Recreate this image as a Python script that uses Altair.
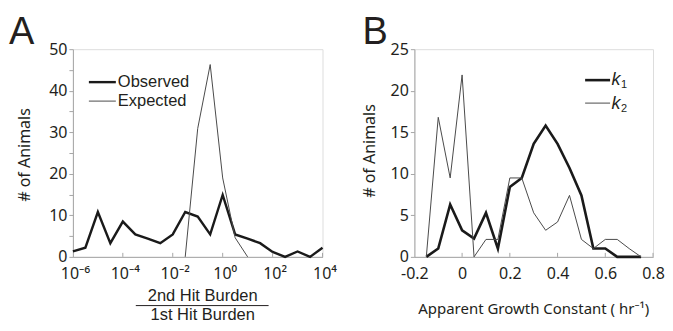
import altair as alt
import pandas as pd

FONT = "Noto Sans"
FONT2 = "Liberation Sans"
INK = "#231f20"

# ---------------- Panel A data ----------------
a_x = [-6, -5.5, -5, -4.5, -4, -3.5, -3, -2.5, -2, -1.5, -1, -0.5, 0, 0.5, 1, 1.5, 2, 2.5, 3, 3.5, 4]
a_observed = [1.3, 2.2, 10.8, 3.3, 8.5, 5.4, 4.4, 3.3, 5.4, 10.8, 9.7, 5.4, 14.9, 5.4, 4.4, 3.3, 1.2, 0, 1.3, 0, 2.2]
a_exp_x = [-1.5, -1, -0.5, 0, 0.5, 1]
a_expected = [0, 30.9, 46.3, 19.0, 4.6, 0]
a_xticks = [-6, -4, -2, 0, 2, 4]
a_xlabels = ["10⁻⁶", "10⁻⁴", "10⁻²", "10⁰", "10²", "10⁴"]
a_yticks = [0, 5, 10, 15, 20, 25, 30, 35, 40, 45, 50]

# ---------------- Panel B data ----------------
b_x = [-0.15, -0.1, -0.05, 0, 0.05, 0.1, 0.15, 0.2, 0.25, 0.3, 0.35, 0.4, 0.45, 0.5, 0.55, 0.6, 0.65, 0.7, 0.75]
b_k1 = [0, 1.0, 6.3, 3.2, 2.2, 5.3, 1.0, 8.4, 9.5, 13.6, 15.8, 13.6, 10.7, 7.4, 1.0, 1.0, 0, 0, 0]
b_k2 = [0, 16.8, 9.5, 21.9, 0, 2.1, 2.1, 9.5, 9.5, 5.3, 3.2, 4.2, 7.4, 2.1, 1.0, 2.1, 2.1, 1.0, 0]
b_xticks = [-0.2, 0, 0.2, 0.4, 0.6, 0.8]
b_xlabels = ["-0.2", "0", "0.2", "0.4", "0.6", "0.8"]
b_yticks = [0, 5, 10, 15, 20, 25]

AW, AH = 250, 208
BW, BH = 239, 208


def label_expr(vals, labels):
    expr = "''"
    for v, l in reversed(list(zip(vals, labels))):
        expr = f"abs(datum.value - ({v})) < 1e-6 ? '{l}' : ({expr})"
    return expr


def txt(s, **kw):
    base = dict(font=FONT, color=INK, fontSize=16)
    base.update(kw)
    return alt.Chart(pd.DataFrame({"t": [s]})).mark_text(**base).encode(text="t:N")


def hrule(x1, x2, y, w, c):
    return alt.Chart(pd.DataFrame({"d": [0]})).mark_rule(strokeWidth=w, color=c).encode(
        x=alt.value(x1), x2=alt.value(x2), y=alt.value(y))


def panel(series, xdom, ydom, xticks, xlabels, yticks, ylabel_expr, h, loff):
    x_scale = alt.Scale(domain=xdom, nice=False, zero=False)
    y_scale = alt.Scale(domain=ydom, nice=False)
    x_axis = alt.Axis(values=xticks, labelExpr=label_expr(xticks, xlabels), title=None, grid=False,
                      ticks=False, domainColor="#a6a6a6", domainWidth=1, labelFont=FONT,
                      labelFontSize=16, labelColor=INK, labelPadding=9, labelOffset=loff,
                      labelOverlap=False, labelFlush=False)
    y_args = dict(values=yticks, title=None, grid=False, tickSize=4, tickColor="#a6a6a6",
                  domainColor="#a6a6a6", labelFont=FONT, labelFontSize=16, labelColor=INK,
                  labelPadding=2, labelOverlap=False)
    if ylabel_expr:
        y_args["labelExpr"] = ylabel_expr
    y_axis = alt.Axis(**y_args)
    layers = []
    for xs, ys, sw, col in series:
        df = pd.DataFrame({"x": xs, "y": ys})
        layers.append(alt.Chart(df).mark_line(strokeWidth=sw, color=col, strokeJoin="miter").encode(
            x=alt.X("x:Q", scale=x_scale, axis=x_axis),
            y=alt.Y("y:Q", scale=y_scale, axis=y_axis)))
    tdf = pd.DataFrame({"x": xticks[1:]})
    layers.append(alt.Chart(tdf).mark_rule(color="#a6a6a6", strokeWidth=1).encode(
        x=alt.X("x:Q", scale=x_scale, axis=x_axis), y=alt.value(h), y2=alt.value(h - 4)))
    return layers


a_layers = panel([(a_x, a_observed, 2.4, "#1a1a1a"), (a_exp_x, a_expected, 1.0, "#4a4a4a")],
                 [-6, 4], [0, 50], a_xticks, a_xlabels, a_yticks,
                 "datum.value % 10 == 0 ? datum.label : ''", AH, 2)
a_layers += [
    txt("A", font=FONT2, fontSize=38, align="left", baseline="alphabetic").encode(x=alt.value(-64), y=alt.value(-4.7)),
    txt("# of Animals", angle=270, align="center", baseline="middle").encode(x=alt.value(-48), y=alt.value(106)),
    hrule(16, 43, 33.0, 2.4, "#1a1a1a"),
    hrule(16, 43, 52.0, 1.0, "#4a4a4a"),
    txt("Observed", font=FONT2, fontSize=16.5, align="left", baseline="middle").encode(x=alt.value(45), y=alt.value(33.0)),
    txt("Expected", font=FONT2, fontSize=16.5, align="left", baseline="middle").encode(x=alt.value(45), y=alt.value(52.0)),
    txt("2nd Hit Burden", font=FONT2, fontSize=16.5, align="center", baseline="middle").encode(x=alt.value(130), y=alt.value(247.5)),
    hrule(63, 196, 256.8, 1.0, INK),
    txt("1st Hit Burden", font=FONT2, fontSize=16.5, align="center", baseline="middle").encode(x=alt.value(130), y=alt.value(266.3)),
]
chart_a = alt.layer(*a_layers).properties(width=AW, height=AH)

b_layers = panel([(b_x, b_k1, 2.6, "#1a1a1a"), (b_x, b_k2, 1.0, "#4a4a4a")],
                 [-0.2, 0.8], [0, 25], b_xticks, b_xlabels, b_yticks, None, BH, 0)
b_layers += [
    txt("B", font=FONT2, fontSize=38, align="left", baseline="alphabetic").encode(x=alt.value(-52), y=alt.value(-4.7)),
    txt("# of Animals", angle=270, align="center", baseline="middle").encode(x=alt.value(-44), y=alt.value(102)),
    hrule(171, 196, 31.0, 2.6, "#1a1a1a"),
    hrule(171, 196, 54.0, 1.0, "#4a4a4a"),
    txt("k", font=FONT2, fontSize=18, fontStyle="italic", align="left", baseline="alphabetic").encode(x=alt.value(197.5), y=alt.value(35.6)),
    txt("1", font=FONT2, fontSize=11, align="left", baseline="alphabetic").encode(x=alt.value(207), y=alt.value(39)),
    txt("k", font=FONT2, fontSize=18, fontStyle="italic", align="left", baseline="alphabetic").encode(x=alt.value(197.5), y=alt.value(59.6)),
    txt("2", font=FONT2, fontSize=11, align="left", baseline="alphabetic").encode(x=alt.value(207), y=alt.value(63)),
    txt("Apparent Growth Constant ( hr⁻¹)", fontSize=15, align="center", baseline="middle").encode(
        x=alt.value(BW / 2), y=alt.value(260)),
]
chart_b = alt.layer(*b_layers).properties(width=BW, height=BH)

chart = alt.hconcat(chart_a, chart_b, spacing=92, bounds="flush").properties(
    padding={"left": 0, "top": 5, "right": 0, "bottom": 0}
).configure_view(stroke=None).configure(background="white")

chart.save("out.html", embed_options={"renderer": "svg", "actions": False})
